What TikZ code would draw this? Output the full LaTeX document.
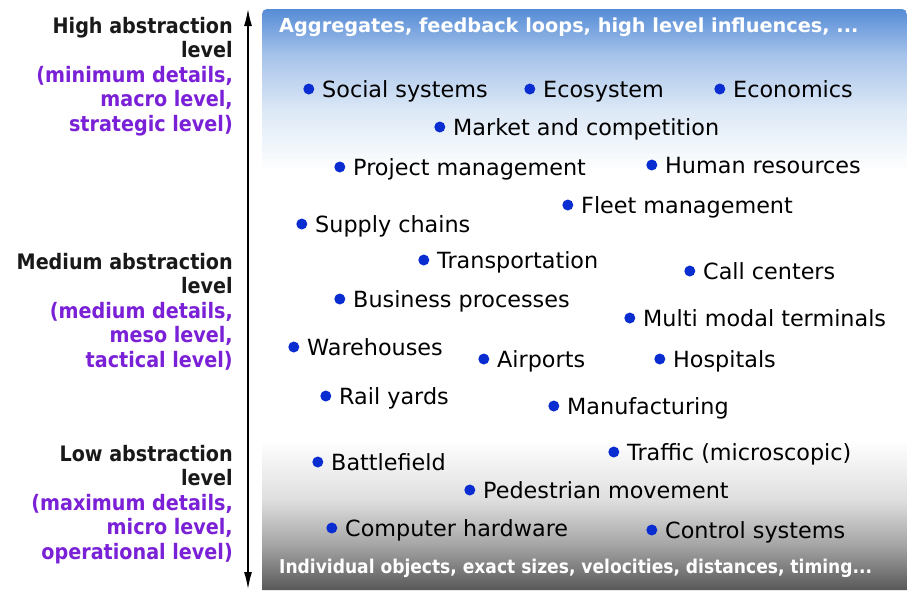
\documentclass[tikz,border=0pt]{standalone}
\usepackage{fontspec}
\setmainfont{DejaVu Sans Condensed}
\newfontfamily\widesans{DejaVu Sans}
\usetikzlibrary{arrows.meta}
\definecolor{dotblue}{RGB}{10,45,210}
\definecolor{lvlpurple}{RGB}{122,32,214}
\definecolor{cA}{RGB}{88,88,88}
\definecolor{cB}{RGB}{165,165,165}
\definecolor{cC}{RGB}{222,222,222}
\definecolor{cD}{RGB}{220,232,246}
\definecolor{cE}{RGB}{166,195,234}
\definecolor{cF}{RGB}{86,140,214}
\pgfdeclareverticalshading{abstraction}{100bp}{color(0bp)=(cA); color(25bp)=(cA); color(28.87bp)=(cB); color(32.75bp)=(cC); color(37.91bp)=(white); color(61.14bp)=(white); color(66.31bp)=(cD); color(71.04bp)=(cE); color(75bp)=(cF); color(100bp)=(cF)}
\tikzset{
  item/.style={anchor=west, inner sep=0pt, text height=16.4pt, text depth=0pt,
    font=\widesans\fontsize{22.3}{26}\selectfont, text=black,
    label={[bullet, label distance=7.5pt]left:{}}},
  bullet/.style={circle, fill=dotblue, minimum size=11pt, inner sep=0pt},
  lvl/.style={anchor=north east, align=right, inner sep=0pt,
    font=\fontsize{21.3}{24.5}\selectfont\bfseries, text=black!90},
  banner/.style={anchor=west, inner sep=0pt, text=white,
    font=\fontsize{19}{22}\selectfont\bfseries},
  bothtips/.style={{Latex[length=17pt,width=8pt]}-{Latex[length=17pt,width=8pt]}}
}
\begin{document}
\begin{tikzpicture}[x=1pt,y=-1pt]
\useasboundingbox (0,0) rectangle (907,590);
\path[shading=abstraction] (262,590) {[rounded corners=5pt] -- (262,9) -- (907,9)} -- (907,590) -- cycle;
\coordinate (atop) at (248,9);
\coordinate (abot) at (248,589);
\draw[line width=1.3pt, bothtips] (atop) -- (abot);

\node[lvl] (high) at (233,17) {High abstraction\\level\\\textcolor{lvlpurple}{(minimum details,}\\\textcolor{lvlpurple}{macro level,}\\\textcolor{lvlpurple}{strategic level)}};
\node[lvl] (medium) at (233,253) {Medium abstraction\\level\\\textcolor{lvlpurple}{(medium details,}\\\textcolor{lvlpurple}{meso level,}\\\textcolor{lvlpurple}{tactical level)}};
\node[lvl] (low) at (233,445) {Low abstraction\\level\\\textcolor{lvlpurple}{(maximum details,}\\\textcolor{lvlpurple}{micro level,}\\\textcolor{lvlpurple}{operational level)}};

\node[banner, font=\widesans\fontsize{19.3}{22}\selectfont\bfseries] (topban) at (279,27) {Aggregates, feedback loops, high level influences, ...};
\node[banner] (botban) at (279,568) {Individual objects, exact sizes, velocities, distances, timing...};

\node[item] (soc) at (322,89) {Social systems};
\node[item] (eco) at (543,89) {Ecosystem};
\node[item] (econ) at (733,89) {Economics};
\node[item] (mkt) at (453,127) {Market and competition};
\node[item] (pm) at (353,167) {Project management};
\node[item] (hr) at (665,165) {Human resources};
\node[item] (sc) at (315,224) {Supply chains};
\node[item] (fleet) at (581,205) {Fleet management};
\node[item] (trans) at (437,260) {Transportation};
\node[item] (call) at (703,271) {Call centers};
\node[item] (bp) at (353,299) {Business processes};
\node[item] (mmt) at (643,318) {Multi modal terminals};
\node[item] (wh) at (307,347) {Warehouses};
\node[item] (air) at (497,359) {Airports};
\node[item] (hosp) at (673,359) {Hospitals};
\node[item] (rail) at (339,396) {Rail yards};
\node[item] (manu) at (567,406) {Manufacturing};
\node[item] (traf) at (627,452) {Traffic (microscopic)};
\node[item] (bf) at (331,462) {Battlefield};
\node[item] (ped) at (483,490) {Pedestrian movement};
\node[item] (comp) at (345,528) {Computer hardware};
\node[item] (ctrl) at (665,530) {Control systems};
\end{tikzpicture}
\end{document}
